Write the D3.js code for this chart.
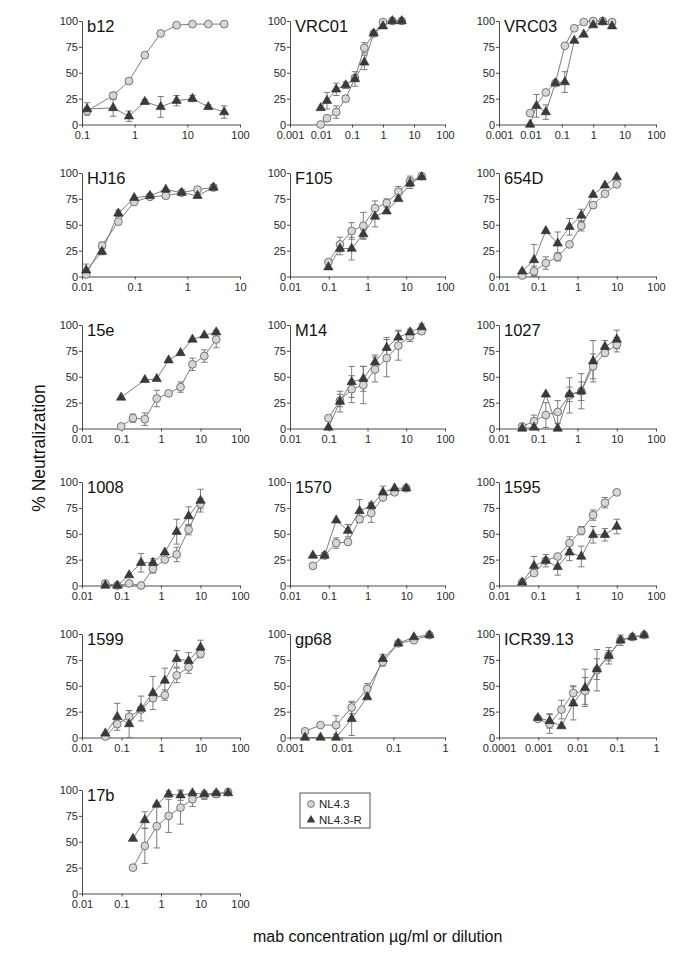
<!DOCTYPE html>
<html>
<head>
<meta charset="utf-8">
<script src="https://cdn.jsdelivr.net/npm/d3@7"></script>
<style>
  body { margin: 0; background: #fff; }
  svg { display: block; }
  text { font-family: "Liberation Sans", Arial, Helvetica, sans-serif; }
</style>
</head>
<body>
<svg id="chart" width="685" height="961"></svg>
<script>
// ---------- DATA ----------
const panelNames = ["b12", "VRC01", "VRC03", "HJ16", "F105", "654D", "15e", "M14", "1027",
                    "1008", "1570", "1595", "1599", "gp68", "ICR39.13", "17b"];
// x-axis domains as powers of ten
const xMinExp = [-1, -3, -3, -2, -2, -2, -2, -2, -2, -2, -2, -2, -2, -3, -4, -2];
const xMaxExp = [ 2,  2,  2,  1,  2,  2,  2,  2,  2,  2,  2,  2,  2,  0,  0,  2];
const yTicks = [0, 25, 50, 75, 100];
const seriesNames = ["NL4.3", "NL4.3-R"];
const yTitle = "% Neutralization";
const xTitle = "mab concentration \u00b5g/ml or dilution";

// concentrations (x) per panel
const concentrations = [
  [0.125, 0.39, 0.78, 1.56, 3.125, 6.25, 12.5, 25, 50],
  [0.0098, 0.0156, 0.031, 0.0625, 0.125, 0.25, 0.5, 1, 2, 4],
  [0.0098, 0.0156, 0.031, 0.0625, 0.125, 0.25, 0.5, 1, 2, 4],
  [0.012, 0.024, 0.049, 0.098, 0.195, 0.39, 0.78, 1.56, 3.125],
  [0.098, 0.195, 0.39, 0.78, 1.56, 3.125, 6.25, 12.5, 25],
  [0.039, 0.078, 0.156, 0.3125, 0.625, 1.25, 2.5, 5, 10],
  [0.098, 0.195, 0.39, 0.78, 1.56, 3.125, 6.25, 12.5, 25],
  [0.098, 0.195, 0.39, 0.78, 1.56, 3.125, 6.25, 12.5, 25],
  [0.039, 0.078, 0.156, 0.3125, 0.625, 1.25, 2.5, 5, 10],
  [0.039, 0.078, 0.156, 0.3125, 0.625, 1.25, 2.5, 5, 10],
  [0.039, 0.078, 0.156, 0.3125, 0.625, 1.25, 2.5, 5, 10],
  [0.039, 0.078, 0.156, 0.3125, 0.625, 1.25, 2.5, 5, 10],
  [0.039, 0.078, 0.156, 0.3125, 0.625, 1.25, 2.5, 5, 10],
  [0.00195, 0.0039, 0.0078, 0.0156, 0.03125, 0.0625, 0.125, 0.25, 0.5],
  [0.00098, 0.00195, 0.0039, 0.0078, 0.0156, 0.03125, 0.0625, 0.125, 0.25, 0.5],
  [0.195, 0.39, 0.78, 1.56, 3.125, 6.25, 12.5, 25, 50]
];

// NL4.3 (circles)
const nl43 = [
  [13, 28, 42, 67, 88, 96, 97, 97, 97],
  [0, 6, 12, 25, 45, 74, 88, 99, 100, 100],
  [11, null, 31, 40, 76, 93, 99, 100, 100, 99],
  [2, 30, 53, 72, 77, 78, 81, 84, 86],
  [14, 31, 44, 49, 66, 71, 82, 92, 97],
  [1, 5, 13, 19, 31, 49, 69, 80, 89],
  [2, 10, 9, 29, 34, 40, 62, 70, 86],
  [10, 27, 38, 42, 57, 68, 80, 89, 94],
  [2, 7, 13, 16, 32, 36, 60, 73, 81],
  [2, 0, 2, 0, 16, 25, 30, 54, 79],
  [19, 29, 41, 42, 64, 70, 85, 90, 94],
  [3, 12, 24, 28, 41, 53, 68, 80, 90],
  [1, 13, 20, 27, 38, 41, 60, 68, 81],
  [6, 12, 12, 29, 47, 73, 91, 94, 99],
  [18, 13, 27, 43, 45, 65, 79, 94, 97, 99],
  [25, 46, 65, 75, 83, 91, 95, 96, 98]
];
const nl43Err = [
  [0, 3, 0, 0, 0, 0, 0, 0, 0],
  [0, 0, 6, 3, 2, 5, 0, 0, 0, 0],
  [0, 0, 0, 0, 0, 0, 0, 0, 0, 0],
  [0, 3, 0, 0, 0, 0, 0, 2, 0],
  [0, 7, 8, 13, 7, 4, 5, 5, 2],
  [0, 5, 6, 4, 0, 5, 3, 0, 2],
  [0, 4, 6, 8, 0, 5, 6, 6, 8],
  [0, 6, 13, 18, 12, 18, 14, 5, 3],
  [0, 6, 12, 11, 17, 17, 12, 0, 7],
  [0, 0, 0, 0, 4, 0, 7, 5, 5],
  [0, 0, 5, 0, 3, 9, 0, 0, 0],
  [0, 0, 0, 0, 6, 4, 5, 5, 0],
  [0, 0, 6, 0, 0, 5, 7, 6, 4],
  [0, 0, 9, 6, 5, 4, 0, 0, 0],
  [0, 9, 9, 7, 13, 20, 8, 0, 0, 0],
  [0, 17, 21, 16, 16, 7, 4, 3, 0]
];

// NL4.3-R (triangles)
const nl43R = [
  [15, 16, 8, 22, 17, 23, 25, 17, 12],
  [16, 23, 34, 38, 44, 60, 88, 95, 100, 100],
  [0, 18, 12, 40, 41, 81, 87, 96, 99, 95],
  [6, 24, 61, 76, 78, 84, 81, 78, 86],
  [9, 27, 27, 41, 58, 63, 75, 90, 96],
  [5, 16, 44, 32, 48, 59, 79, 88, 96],
  [30, null, 47, 48, 66, 73, 86, 90, 93],
  [1, 26, 45, 48, 64, 78, 88, 93, 98],
  [0, 1, 33, 0, 33, 36, 65, 79, 86],
  [0, 0, 10, 22, 22, 32, 52, 67, 82],
  [29, 29, 63, 53, 72, 77, 90, 94, 94],
  [3, 19, 24, 18, 32, 28, 49, 49, 57],
  [4, 20, 13, 28, 43, 55, 76, 74, 87],
  [0, 0, 0, 18, 39, 76, 91, 97, 99],
  [19, 16, 11, 33, 48, 66, 79, 94, 97, 99],
  [53, 71, 86, 96, 95, 97, 96, 97, 97]
];
const nl43RErr = [
  [6, 8, 5, 2, 10, 5, 3, 2, 6],
  [0, 8, 6, 3, 7, 7, 2, 0, 0, 0],
  [0, 11, 7, 0, 10, 0, 0, 0, 0, 0],
  [6, 3, 3, 0, 2, 0, 2, 0, 3],
  [0, 6, 11, 4, 10, 0, 0, 5, 0],
  [0, 15, 0, 11, 8, 6, 0, 0, 0],
  [0, 0, 0, 0, 0, 0, 0, 0, 2],
  [0, 10, 15, 12, 7, 10, 7, 3, 3],
  [0, 0, 0, 0, 7, 9, 20, 6, 9],
  [0, 0, 0, 9, 4, 0, 12, 9, 11],
  [0, 3, 0, 6, 11, 3, 6, 0, 0],
  [0, 9, 6, 8, 8, 10, 8, 6, 7],
  [0, 13, 13, 12, 16, 12, 8, 8, 7],
  [0, 0, 0, 16, 0, 4, 0, 0, 0],
  [0, 7, 0, 16, 18, 10, 5, 5, 0, 0],
  [0, 8, 0, 3, 5, 0, 0, 0, 0]
];

// ---------- LAYOUT / STYLE ----------
const colX = [82, 290, 499];
const colW = [158, 155, 157];
const rowY = [21, 173, 325, 482, 634, 790];
const plotH = 103.5;
const axisColor = "#4a4a4a";
const lineColor = "#6e6e6e";
const circleFill = "#d6d6d6";
const circleStroke = "#6a6a6a";
const triFill = "#3a3a3a";

const svg = d3.select("#chart");
const triSymbol = d3.symbol().type(d3.symbolTriangle).size(38);
const fmt = d3.format("~g");

panelNames.forEach((name, i) => {
  const c = i % 3, r = Math.floor(i / 3);
  const g = svg.append("g").attr("transform", `translate(${colX[c]},${rowY[r]})`);
  const x = d3.scaleLog().domain([Math.pow(10, xMinExp[i]), Math.pow(10, xMaxExp[i])]).range([0, colW[c]]);
  const y = d3.scaleLinear().domain([0, 100]).range([plotH, 0]);
  const xt = d3.range(xMinExp[i], xMaxExp[i] + 1).map(e => +Math.pow(10, e).toPrecision(1));

  const xa = g.append("g").attr("transform", `translate(0,${plotH})`)
    .call(d3.axisBottom(x).tickValues(xt).tickFormat(fmt).tickSize(3).tickSizeOuter(0).tickPadding(4));
  const ya = g.append("g")
    .call(d3.axisLeft(y).tickValues(yTicks).tickSize(3).tickSizeOuter(0).tickPadding(1));
  [xa, ya].forEach(a => {
    a.select(".domain").attr("stroke", axisColor).attr("stroke-width", 1);
    a.selectAll(".tick line").attr("stroke", axisColor);
    a.selectAll(".tick text").attr("fill", "#2a2a2a").style("font-size", "11px")
      .style("font-family", "'Liberation Sans', Arial, sans-serif");
  });

  g.append("text").attr("x", 5).attr("y", 11).attr("fill", "#111")
    .style("font-size", "16.5px").text(name);

  const series = [
    { vals: nl43[i], errs: nl43Err[i] },
    { vals: nl43R[i], errs: nl43RErr[i] }
  ];
  const line = d3.line().x(d => x(d.x)).y(d => y(d.y));

  series.forEach(s => {
    const pts = concentrations[i].map((cx, k) => ({ x: cx, y: s.vals[k], e: s.errs[k] }))
      .filter(d => d.y !== null && d.y !== undefined);
    g.append("path").datum(pts).attr("d", line)
      .attr("fill", "none").attr("stroke", lineColor).attr("stroke-width", 0.9);
    const eb = g.append("g").selectAll("g").data(pts.filter(d => d.e > 0)).join("g")
      .attr("stroke", lineColor).attr("stroke-width", 0.9);
    eb.append("line").attr("x1", d => x(d.x)).attr("x2", d => x(d.x))
      .attr("y1", d => y(d.y - d.e)).attr("y2", d => y(d.y + d.e));
    eb.append("line").attr("x1", d => x(d.x) - 3.2).attr("x2", d => x(d.x) + 3.2)
      .attr("y1", d => y(d.y + d.e)).attr("y2", d => y(d.y + d.e));
    eb.append("line").attr("x1", d => x(d.x) - 3.2).attr("x2", d => x(d.x) + 3.2)
      .attr("y1", d => y(d.y - d.e)).attr("y2", d => y(d.y - d.e));
  });

  // markers: circles first, triangles on top
  const cPts = concentrations[i].map((cx, k) => ({ x: cx, y: nl43[i][k] })).filter(d => d.y !== null);
  g.append("g").selectAll("circle").data(cPts).join("circle")
    .attr("cx", d => x(d.x)).attr("cy", d => y(d.y)).attr("r", 3.9)
    .attr("fill", circleFill).attr("stroke", circleStroke).attr("stroke-width", 0.9);
  const tPts = concentrations[i].map((cx, k) => ({ x: cx, y: nl43R[i][k] })).filter(d => d.y !== null);
  g.append("g").selectAll("path").data(tPts).join("path")
    .attr("d", triSymbol).attr("transform", d => `translate(${x(d.x)},${y(d.y)})`)
    .attr("fill", triFill).attr("stroke", "#2e2e2e").attr("stroke-width", 0.6);
});

// legend
const lg = svg.append("g").attr("transform", "translate(300,793)");
lg.append("rect").attr("width", 70).attr("height", 35).attr("fill", "#fff")
  .attr("stroke", "#555").attr("stroke-width", 1);
lg.append("circle").attr("cx", 11).attr("cy", 11).attr("r", 3.4)
  .attr("fill", circleFill).attr("stroke", circleStroke).attr("stroke-width", 0.9);
lg.append("path").attr("d", d3.symbol().type(d3.symbolTriangle).size(32)())
  .attr("transform", "translate(11,27)").attr("fill", triFill);
lg.selectAll("text.lab").data(seriesNames).join("text").attr("class", "lab")
  .attr("x", 19).attr("y", (d, k) => 15 + k * 16).attr("fill", "#222")
  .style("font-size", "11.5px").text(d => d);

// axis titles
svg.append("text").attr("transform", "translate(45,448) rotate(-90)")
  .attr("text-anchor", "middle").attr("fill", "#111").style("font-size", "17.5px").text(yTitle);
svg.append("text").attr("x", 253).attr("y", 942).attr("fill", "#111")
  .style("font-size", "16px").text(xTitle);
</script>
</body>
</html>
